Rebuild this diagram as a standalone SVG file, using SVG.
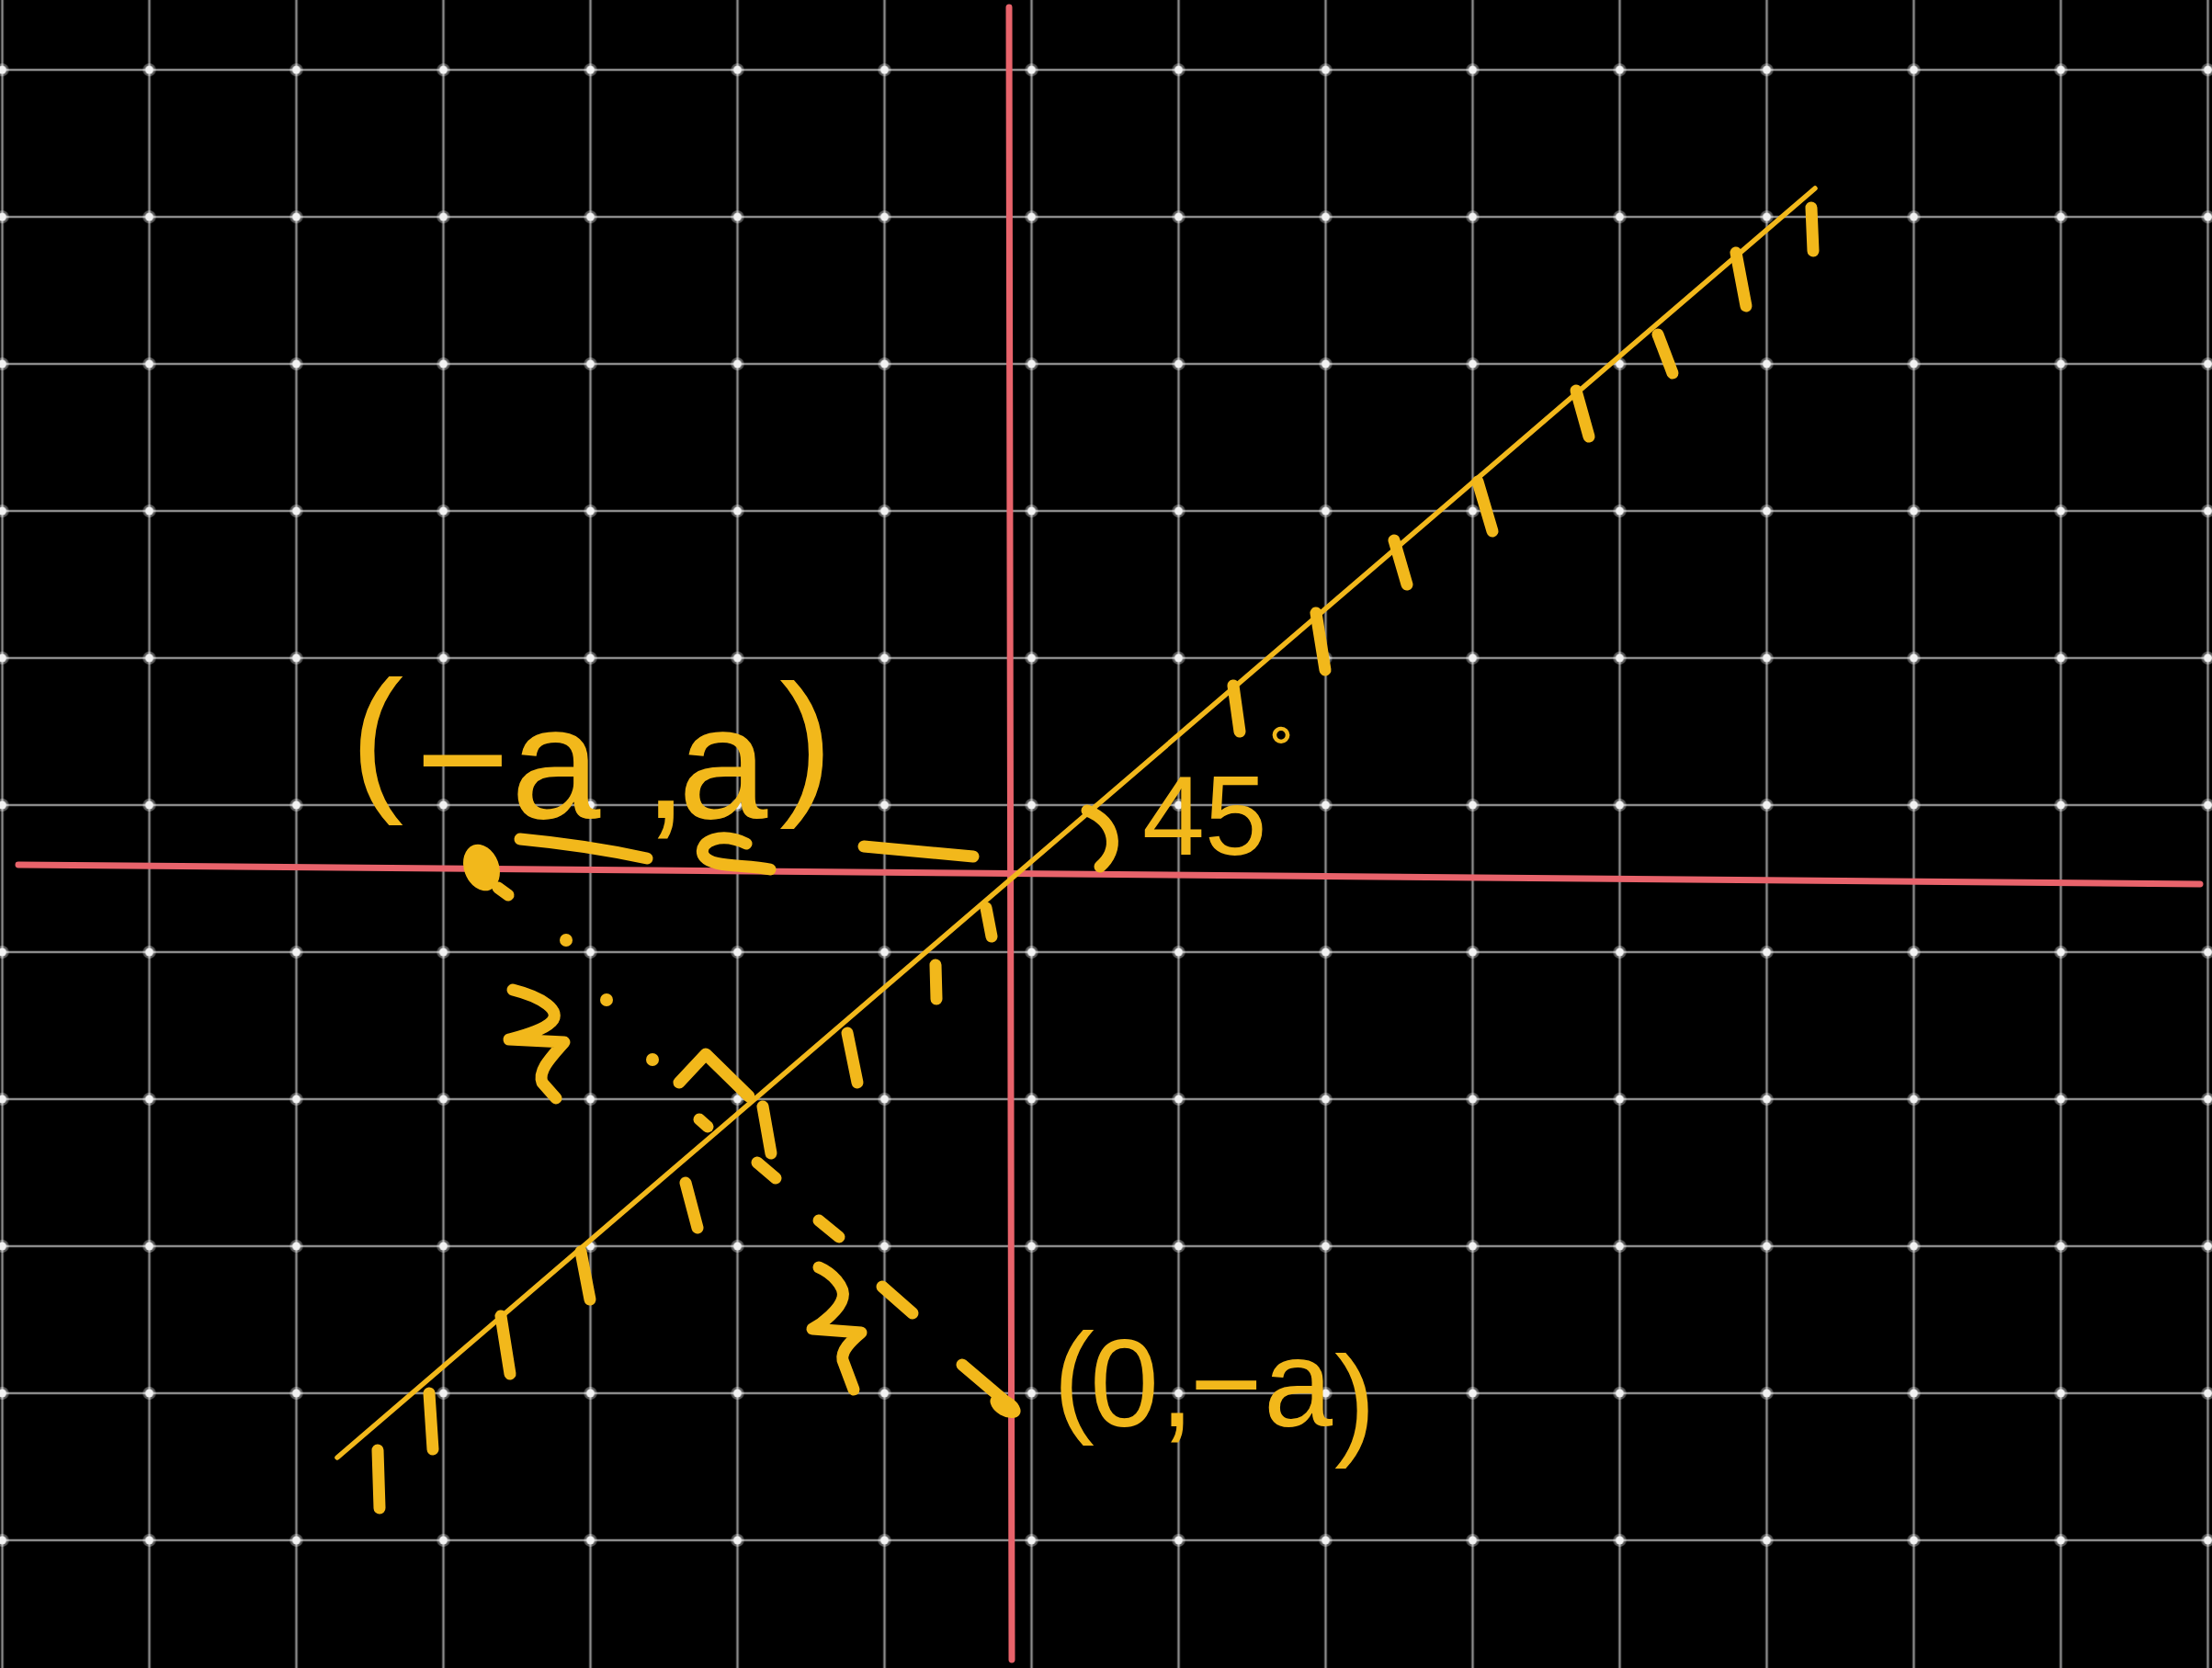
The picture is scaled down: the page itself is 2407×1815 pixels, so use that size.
<svg xmlns="http://www.w3.org/2000/svg" width="2407" height="1815" viewBox="0 0 2407 1815">
<style>
.y{stroke:#F2B81B;stroke-width:13;stroke-linecap:round;stroke-linejoin:round;fill:none}
.yf{fill:#F2B81B}
.ax{stroke:#E8636B;stroke-width:7;stroke-linecap:round}
.lbl{font-family:"Liberation Sans",Arial,sans-serif;fill:#F2B81B}
</style>
<defs>
<pattern id="grid" patternUnits="userSpaceOnUse" x="-77.5" y="-4" width="160" height="160">
<line x1="80" y1="0" x2="80" y2="160" stroke="#8c8c8c" stroke-width="2.5"/>
<line x1="0" y1="80" x2="160" y2="80" stroke="#8c8c8c" stroke-width="2.5"/>
<circle cx="80" cy="80" r="7" fill="#ffffff" opacity="0.35"/>
<circle cx="80" cy="80" r="4.5" fill="#f2f2f2"/>
</pattern>
</defs>
<rect width="2407" height="1815" fill="#000"/>
<rect width="2407" height="1815" fill="url(#grid)"/>
<g id="axes">
<line class="ax" x1="1098" y1="8" x2="1101" y2="1806"/>
<line class="ax" x1="20" y1="941" x2="2394" y2="962"/>
</g>
<g id="line">
<line x1="367" y1="1586" x2="1975" y2="205" stroke="#F2B81B" stroke-width="5.5" stroke-linecap="round"/>
</g>
<g id="hatching" class="y">
<line x1="411" y1="1578" x2="413" y2="1641"/>
<line x1="467" y1="1516" x2="471" y2="1577"/>
<line x1="545" y1="1432" x2="555" y2="1495"/>
<line x1="632" y1="1362" x2="642" y2="1414"/>
<line x1="746" y1="1287" x2="759" y2="1336"/>
<line x1="830" y1="1204" x2="839" y2="1255"/>
<line x1="922" y1="1124" x2="933" y2="1178"/>
<line x1="1018" y1="1050" x2="1019" y2="1087"/>
<line x1="1073" y1="988" x2="1079" y2="1019"/>
<line x1="1342" y1="746" x2="1349" y2="796"/>
<line x1="1432" y1="667" x2="1442" y2="729"/>
<line x1="1517" y1="588" x2="1531" y2="636"/>
<line x1="1608" y1="524" x2="1624" y2="578"/>
<line x1="1715" y1="425" x2="1729" y2="475"/>
<line x1="1804" y1="364" x2="1820" y2="406"/>
<line x1="1889" y1="275" x2="1900" y2="333"/>
<line x1="1971" y1="226" x2="1973" y2="273"/>
</g>
<g id="point-neg-a-a">
<ellipse class="yf" cx="524" cy="944" rx="19" ry="26" transform="rotate(-20 524 944)"/>
<line class="y" x1="542" y1="966" x2="553" y2="974"/>
<text class="lbl" font-size="175" x="381 452 556 700 738 848" y="862 886 890 890 890 866">(−a,a)</text>
<path class="y" d="M566,913 Q640,920 704,934"/>
<path class="y" d="M812,918 C785,905 760,915 765,930 C772,945 810,940 838,946"/>
<line class="y" x1="940" y1="921" x2="1059" y2="932"/>
</g>
<g id="perpendicular" class="y">
<circle class="yf" cx="616" cy="1023" r="7" stroke="none"/>
<circle class="yf" cx="660" cy="1088" r="7" stroke="none"/>
<circle class="yf" cx="710" cy="1153" r="7" stroke="none"/>
<polyline points="739,1178 768,1147 815,1193"/>
<line x1="761" y1="1218" x2="770" y2="1226"/>
<line x1="824" y1="1265" x2="844" y2="1282"/>
<line x1="891" y1="1328" x2="913" y2="1346"/>
<line x1="960" y1="1400" x2="993" y2="1429"/>
<line x1="1047" y1="1485" x2="1100" y2="1530"/>
<ellipse class="yf" cx="1094" cy="1530" rx="18" ry="11" transform="rotate(30 1094 1530)" stroke="none"/>
<path d="M558,1077 C590,1085 612,1100 600,1112 C590,1122 565,1128 554,1131 L614,1134 C600,1150 585,1165 590,1178 L605,1195"/>
<path d="M891,1379 C905,1385 920,1400 917,1412 C914,1425 895,1440 884,1446 L937,1450 C925,1460 915,1470 917,1480 L929,1512"/>
</g>
<g id="angle">
<path class="y" d="M1183,882 C1215,895 1218,925 1197,943"/>
<text class="lbl" font-size="122" x="1243" y="930">45<tspan font-size="60" font-weight="bold" x="1382" y="832">°</tspan></text>
</g>
<g id="point-0-neg-a">
<text class="lbl" font-size="135" x="1146 1186 1262 1295 1375 1452" y="1545 1552 1552 1552 1552 1570">(0,−a)</text>
</g>
</svg>
